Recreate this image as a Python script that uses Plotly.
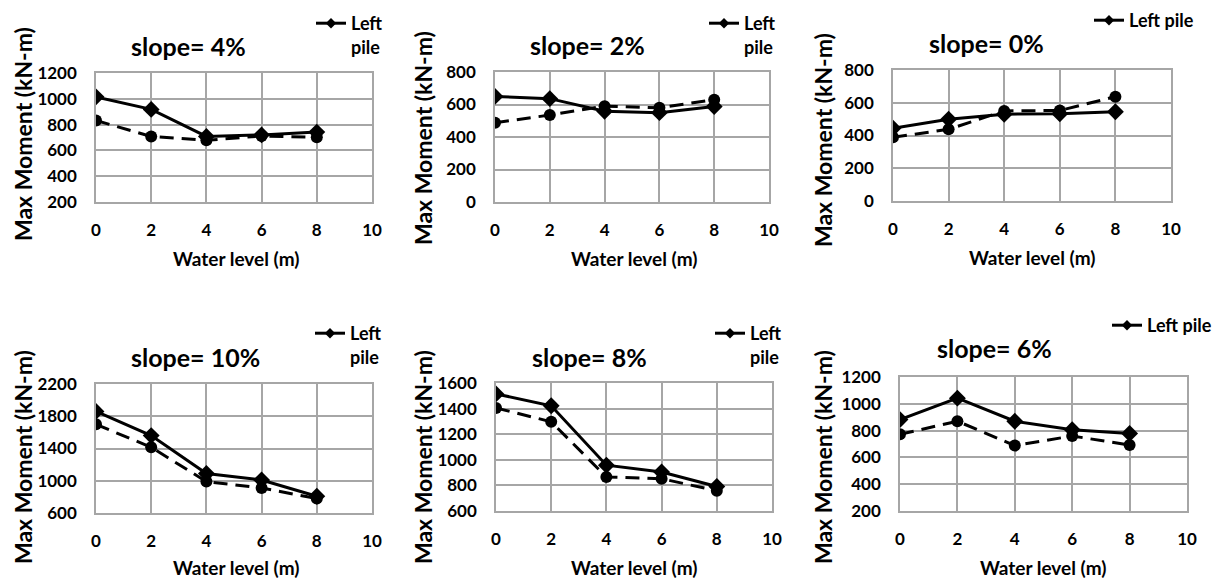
import plotly.graph_objects as go

W, H = 1217, 578

water_level = [0, 2, 4, 6, 8]
x_ticks = [0, 2, 4, 6, 8, 10]

titles = ["slope= 4%", "slope= 2%", "slope= 0%", "slope= 10%", "slope= 8%", "slope= 6%"]
x_title = "Water level (m)"
y_title = "Max Moment (kN-m)"

left_4 = [1015, 918, 708, 720, 742]
right_4 = [832, 708, 678, 712, 702]
left_2 = [650, 636, 558, 550, 588]
right_2 = [488, 535, 590, 580, 630]
left_0 = [444, 499, 530, 533, 545]
right_0 = [389, 438, 550, 553, 637]
left_10 = [1860, 1560, 1090, 1010, 808]
right_10 = [1700, 1415, 990, 910, 780]
left_8 = [1515, 1422, 958, 905, 791]
right_8 = [1405, 1297, 866, 852, 758]
left_6 = [882, 1042, 870, 806, 778]
right_6 = [772, 870, 688, 760, 692]

left_series = [left_4, left_2, left_0, left_10, left_8, left_6]
right_series = [right_4, right_2, right_0, right_10, right_8, right_6]

y_ranges = [(200, 1200), (0, 800), (0, 800), (600, 2200), (600, 1600), (200, 1200)]
y_dticks = [200, 200, 200, 400, 200, 200]
legend_names = ["Left<br>pile", "Left<br>pile", "Left pile", "Left<br>pile", "Left<br>pile", "Left pile"]

# plot-area boxes in pixels: (left, right, top, bottom)
boxes = [(96, 372, 73, 202), (495, 769, 72, 202), (893, 1171, 70, 201),
         (96, 372, 384, 513), (496, 772, 383, 511), (900, 1187, 377, 511)]
title_pos = [(188, 46), (587, 45), (986, 43), (195, 357), (589, 357), (994, 348)]
legend_pos = [(311, 5), (704, 5), (1089, 2), (310, 315), (710, 315), (1107, 307)]
xtitle_pos = [(236, 258), (634, 258), (1032, 257), (236, 567), (634, 567), (1043, 567)]
ytitle_pos = [(23, 134), (423, 138), (823, 140), (23, 457), (423, 457), (823, 457)]

FONT = "Lato"
GRID = "#a6a6a6"

fig = go.Figure()
layout = dict(
    width=W, height=H,
    margin=dict(l=0, r=0, t=0, b=0, autoexpand=False),
    paper_bgcolor="white", plot_bgcolor="white",
    font=dict(family=FONT, color="black", size=16, weight="bold"),
    annotations=[],
)

def px_x(v):
    return v / W

def px_y(v):
    return 1 - v / H

for i in range(6):
    n = "" if i == 0 else str(i + 1)
    xa, ya = "x" + n, "y" + n
    lg = "legend" + n
    fig.add_trace(go.Scatter(
        x=water_level, y=left_series[i], mode="lines+markers",
        name="Left pile", xaxis=xa, yaxis=ya, showlegend=False,
        line=dict(color="black", width=3),
        marker=dict(symbol="diamond", size=13, color="black"),
    ))
    fig.add_trace(go.Scatter(
        x=water_level, y=right_series[i], mode="lines+markers",
        name="Right pile", xaxis=xa, yaxis=ya, showlegend=False,
        line=dict(color="black", width=3, dash="14px,8px"),
        marker=dict(symbol="circle", size=12, color="black"),
    ))
    # legend-only entry (no data) so the legend symbol is small like the original
    fig.add_trace(go.Scatter(
        x=[None], y=[None], mode="lines+markers",
        name=legend_names[i], xaxis=xa, yaxis=ya, legend=lg, showlegend=True,
        line=dict(color="black", width=3),
        marker=dict(symbol="diamond", size=8, color="black"),
        hoverinfo="skip",
    ))
    l, r, t, b = boxes[i]
    layout["xaxis" + n] = dict(
        domain=[px_x(l), px_x(r)], anchor=ya, range=[0, 10], tickvals=x_ticks,
        showgrid=True, gridcolor=GRID, gridwidth=1.5,
        showline=True, linecolor=GRID, linewidth=1.5, mirror=True,
        zeroline=False, ticks="", ticklabelstandoff=12, automargin=False,
        tickfont=dict(size=17, family=FONT, weight="bold"),
        fixedrange=True,
    )
    y0, y1 = y_ranges[i]
    layout["yaxis" + n] = dict(
        domain=[px_y(b), px_y(t)], anchor=xa, range=[y0, y1], dtick=y_dticks[i], tick0=y0,
        showgrid=True, gridcolor=GRID, gridwidth=1.5,
        showline=True, linecolor=GRID, linewidth=1.5, mirror=True,
        zeroline=False, ticks="", ticklabelstandoff=14, automargin=False,
        tickfont=dict(size=17, family=FONT, weight="bold"),
        fixedrange=True,
    )
    lx, ly = legend_pos[i]
    layout[lg] = dict(
        x=px_x(lx), y=px_y(ly), xanchor="left", yanchor="top",
        bgcolor="rgba(0,0,0,0)", borderwidth=0, valign="top",
        font=dict(size=18, family=FONT, weight="bold"),
    )
    tx, ty = title_pos[i]
    layout["annotations"].append(dict(
        text=titles[i], x=px_x(tx), y=px_y(ty), xref="paper", yref="paper",
        xanchor="center", yanchor="middle", showarrow=False,
        font=dict(size=25, family=FONT, weight="bold"),
    ))
    ax, ay = xtitle_pos[i]
    layout["annotations"].append(dict(
        text=x_title, x=px_x(ax), y=px_y(ay), xref="paper", yref="paper",
        xanchor="center", yanchor="middle", showarrow=False,
        font=dict(size=19, family=FONT, weight="bold"),
    ))
    yx, yy = ytitle_pos[i]
    layout["annotations"].append(dict(
        text=y_title, x=px_x(yx), y=px_y(yy), xref="paper", yref="paper",
        xanchor="center", yanchor="middle", showarrow=False, textangle=-90,
        font=dict(size=23, family=FONT, weight="bold"),
    ))

fig.update_layout(**layout)
fig.write_html(
    "out.html",
    config={"displayModeBar": False, "staticPlot": False},
    post_script="document.body.style.margin='0';document.body.style.overflow='hidden';",
)
